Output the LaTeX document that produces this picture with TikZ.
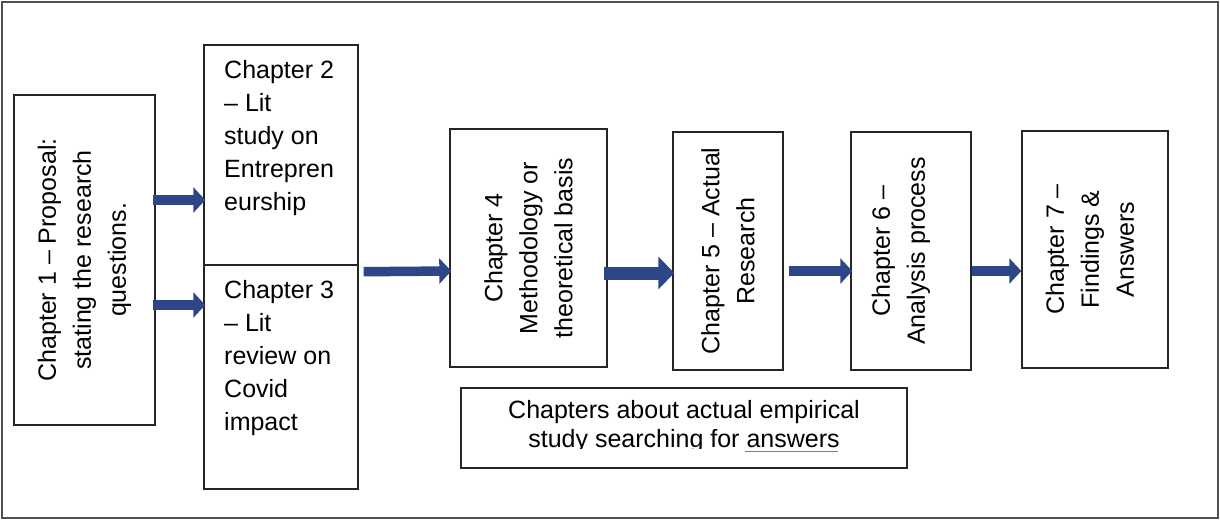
\documentclass[tikz,border=0pt]{standalone}
\usepackage{fontspec}
\setmainfont{Liberation Sans}
\usetikzlibrary{arrows.meta}
\definecolor{arrowblue}{RGB}{45,70,135}
\definecolor{framegray}{RGB}{80,80,80}
\definecolor{spellblue}{RGB}{90,125,215}
\begin{document}
\begin{tikzpicture}[x=1pt,y=-1pt,
  chbox/.style={draw=black!85, line width=1.4pt, inner sep=0pt},
  lbl/.style={inner sep=0pt, font=\fontsize{25}{35}\selectfont, align=center},
  lbltop/.style={inner sep=0pt, anchor=north west, align=left,
                 font=\fontsize{25}{33}\selectfont},
  flow/.style={draw=arrowblue, line width=9.5pt,
               -{Triangle[length=12pt,width=25pt]}, arrowblue},
  flowwide/.style={draw=arrowblue, line width=13pt,
               -{Triangle[length=16pt,width=32pt]}, arrowblue}]
  % page and outer frame
  \useasboundingbox (0,0) rectangle (1220,520);
  \draw[framegray, line width=1.5pt] (2,2) rectangle (1218,518);

  % chapter boxes
  \node[chbox, minimum width=141pt, minimum height=330pt] (c1) at (84.5,260) {};
  \node[chbox, minimum width=154pt, minimum height=220pt] (c2) at (281,155) {};
  \node[chbox, minimum width=154pt, minimum height=224pt] (c3) at (281,377) {};
  \node[chbox, minimum width=157pt, minimum height=238pt] (c4) at (528.5,248) {};
  \node[chbox, minimum width=110pt, minimum height=238pt] (c5) at (728,251) {};
  \node[chbox, minimum width=120pt, minimum height=238pt] (c6) at (911,251) {};
  \node[chbox, minimum width=146pt, minimum height=237pt] (c7) at (1095,249.5) {};
  \node[chbox, minimum width=446pt, minimum height=80pt] (c8) at (684,428) {};

  % box texts
  \node[lbl, rotate=90] (t1) at (c1.center) {Chapter 1 – Proposal:\\stating the research\\questions.};
  \node[lbltop] (t2) at (224,60) {Chapter 2\\– Lit\\study on\\Entrepren\\eurship};
  \node[lbltop] (t3) at (224,280) {Chapter 3\\– Lit\\review on\\Covid\\impact};
  \node[lbl, rotate=90] (t4) at (c4.center) {Chapter 4\\Methodology or\\theoretical basis};
  \node[lbl, rotate=90] (t5) at (c5.center) {Chapter 5 – Actual\\Research};
  \node[lbl, rotate=90] (t6) at ([xshift=-10pt]c6.center) {Chapter 6 –\\Analysis process};
  \node[lbl, rotate=90] (t7) at ([xshift=-5pt]c7.center) {Chapter 7 –\\Findings \&\\Answers};

  % summary box: text frame cuts off the lower line
  \begin{scope}
    \clip (462,389) rectangle (906,448.5);
    \node[inner sep=0pt, anchor=north, align=center,
          font=\fontsize{25}{29}\selectfont] (t8) at (684,400)
      {Chapters about actual empirical\\study searching for answers};
  \end{scope}
  \draw[spellblue, line width=0.9pt] (745,451) -- (838,451);

  % flow arrows
  \draw[flow] ([xshift=-3pt,yshift=60pt]c1.east) -- ([xshift=2pt,yshift=-45pt]c2.west);
  \draw[flow] ([xshift=-3pt,yshift=-45pt]c1.east) -- ([xshift=2pt,yshift=72pt]c3.west);
  \draw[flow] ([xshift=5pt,yshift=-6pt]c2.south east) -- ([xshift=2pt,yshift=-23pt]c4.west);
  \draw[flowwide] ([xshift=-4pt,yshift=-25pt]c4.east) -- ([xshift=2pt,yshift=-22pt]c5.west);
  \draw[flow] ([xshift=5pt,yshift=-20pt]c5.east) -- ([xshift=2pt,yshift=-20pt]c6.west);
  \draw[flow] ([yshift=-20pt]c6.east) -- ([yshift=-21.5pt]c7.west);
\end{tikzpicture}
\end{document}
